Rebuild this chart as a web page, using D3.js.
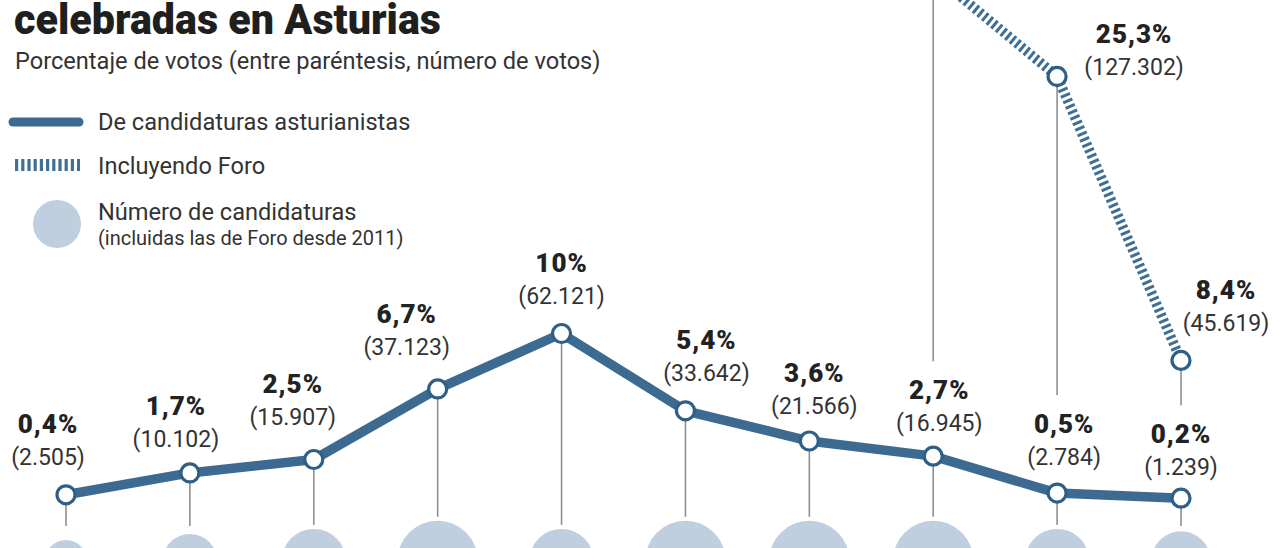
<!DOCTYPE html>
<html>
<head>
<meta charset="utf-8">
<script src="https://cdn.jsdelivr.net/npm/d3@7"></script>
<style>
  html, body { margin: 0; padding: 0; background: #fff; }
  svg { display: block; }
  text { font-family: Roboto, "Noto Sans", sans-serif; }
</style>
</head>
<body>
<svg id="chart" width="1280" height="548"></svg>
<script>
// ---------------- data ----------------
const years = ["1983", "1987", "1991", "1995", "1999", "2003", "2007", "2011", "2012", "2015"];
const pctAsturianistas = [0.4, 1.7, 2.5, 6.7, 10, 5.4, 3.6, 2.7, 0.5, 0.2];
const votesAsturianistas = [2505, 10102, 15907, 37123, 62121, 33642, 21566, 16945, 2784, 1239];
const pctConForo = [null, null, null, null, null, null, null, 31.4, 25.3, 8.4];
const votesConForo = [null, null, null, null, null, null, null, null, 127302, 45619];
const numCandidaturas = [3, 5, 7, 11, 7, 11, 11, 11, 7, 6];

const titleText = "celebradas en Asturias";
const subtitleText = "Porcentaje de votos (entre paréntesis, número de votos)";
const legendLabels = ["De candidaturas asturianistas", "Incluyendo Foro", "Número de candidaturas", "(incluidas las de Foro desde 2011)"];

// label placement (layout, not data)
const labelDxA = [-18, -14, -21, -31, 0, 21, 5, 6, 7, 0];
const labelDyA = [-25, -21, -30, -29, -25, -25, -22, -20, -23, -18];
const labelDxF = [0, 0, 0, 0, 0, 0, 0, 0, 77, 45];
const labelDyF = [0, 0, 0, 0, 0, 0, 0, 0, 4, -24];

// ---------------- setup ----------------
const svg = d3.select("#chart");
const locale = d3.formatLocale({ decimal: ",", thousands: ".", grouping: [3], currency: ["", "€"] });
const fmtPct = v => locale.format(".1~f")(v) + "%";
const fmtVotes = v => "(" + locale.format(",")(v) + ")";

const COL_LINE = "#3d6a90";
const COL_DASH = "#3f6f93";
const COL_BUBBLE = "#bfcfe0";
const COL_DROP = "#8f8f8f";

const x = d3.scalePoint().domain(years).range([66, 1181]);
const y = d3.scaleLinear().domain([0, 10]).range([501.5, 333.5]);
const r = d3.scaleSqrt().domain([0, 11]).range([0, 40.2]);
const bubbleY = 561;

const dataA = years.map((yr, i) => ({ yr, i, v: pctAsturianistas[i], votes: votesAsturianistas[i] }));
const dataF = years.map((yr, i) => ({ yr, i, v: pctConForo[i], votes: votesConForo[i] })).filter(d => d.v != null);

// ---------------- title / subtitle ----------------
svg.append("text").attr("x", 14).attr("y", 34)
  .attr("font-size", 42).attr("font-weight", 900).attr("fill", "#1f1f1f")
  .attr("textLength", 427).attr("lengthAdjust", "spacingAndGlyphs")
  .text(titleText);
svg.append("text").attr("x", 15).attr("y", 69)
  .attr("font-size", 23.6).attr("fill", "#333")
  .text(subtitleText);

// ---------------- legend ----------------
const lg = svg.append("g");
lg.append("line").attr("x1", 13).attr("x2", 79).attr("y1", 122).attr("y2", 122)
  .attr("stroke", COL_LINE).attr("stroke-width", 9).attr("stroke-linecap", "round");
lg.append("line").attr("x1", 15).attr("x2", 80).attr("y1", 165).attr("y2", 165)
  .attr("stroke", COL_DASH).attr("stroke-width", 12).attr("stroke-dasharray", "3.2,3");
lg.append("circle").attr("cx", 57).attr("cy", 224).attr("r", 24).attr("fill", COL_BUBBLE);
lg.append("text").attr("x", 98).attr("y", 130).attr("font-size", 23.6).attr("fill", "#333").text(legendLabels[0]);
lg.append("text").attr("x", 98).attr("y", 174).attr("font-size", 23.6).attr("fill", "#333").text(legendLabels[1]);
lg.append("text").attr("x", 98).attr("y", 220).attr("font-size", 23.6).attr("fill", "#333").text(legendLabels[2]);
lg.append("text").attr("x", 98).attr("y", 245).attr("font-size", 20).attr("fill", "#333").text(legendLabels[3]);

// ---------------- drop lines ----------------
const drops = svg.append("g");
dataA.forEach(d => {
  const cx = x(d.yr);
  const bubbleTop = bubbleY - r(numCandidaturas[d.i]);
  const bottom = Math.min(526, bubbleTop - 4);
  drops.append("line").attr("x1", cx).attr("x2", cx)
    .attr("y1", y(d.v)).attr("y2", bottom)
    .attr("stroke", COL_DROP).attr("stroke-width", 1.6);
});
dataF.forEach(d => {
  const cx = x(d.yr);
  const a = dataA[d.i];
  const labelTop = y(a.v) + labelDyA[a.i] - 55;
  drops.append("line").attr("x1", cx).attr("x2", cx)
    .attr("y1", y(d.v)).attr("y2", labelTop - 20)
    .attr("stroke", COL_DROP).attr("stroke-width", 1.6);
});

// ---------------- bubbles ----------------
svg.append("g").selectAll("circle").data(dataA).join("circle")
  .attr("cx", d => x(d.yr)).attr("cy", bubbleY)
  .attr("r", d => r(numCandidaturas[d.i]))
  .attr("fill", COL_BUBBLE);

// ---------------- lines ----------------
const line = d3.line().x(d => x(d.yr)).y(d => y(d.v));
svg.append("path").datum(dataF).attr("d", line)
  .attr("fill", "none").attr("stroke", COL_DASH).attr("stroke-width", 10)
  .attr("stroke-dasharray", "3,3");
svg.append("path").datum(dataA).attr("d", line)
  .attr("fill", "none").attr("stroke", COL_LINE).attr("stroke-width", 9.5)
  .attr("stroke-linejoin", "round");

// ---------------- markers ----------------
const markers = svg.append("g");
markers.selectAll("circle.a").data(dataA).join("circle").attr("class", "a")
  .attr("cx", d => x(d.yr)).attr("cy", d => y(d.v)).attr("r", 9)
  .attr("fill", "#fff").attr("stroke", "#2f5f86").attr("stroke-width", 3.2);
markers.selectAll("circle.f").data(dataF).join("circle").attr("class", "f")
  .attr("cx", d => x(d.yr)).attr("cy", d => y(d.v)).attr("r", 9)
  .attr("fill", "#fff").attr("stroke", "#2f5f86").attr("stroke-width", 3.2);

// ---------------- labels ----------------
function addLabel(d, dx, dy) {
  const cx = x(d.yr) + dx;
  const parenBase = y(d.v) + dy - 5;
  const g = svg.append("g");
  g.append("text").attr("x", cx).attr("y", parenBase - 32)
    .attr("text-anchor", "middle").attr("font-size", 26).attr("font-weight", 900)
    .attr("fill", "#222").attr("letter-spacing", 1)
    .text(fmtPct(d.v));
  g.append("text").attr("x", cx).attr("y", parenBase)
    .attr("text-anchor", "middle").attr("font-size", 23).attr("fill", "#333")
    .text(fmtVotes(d.votes));
}
dataA.forEach(d => addLabel(d, labelDxA[d.i], labelDyA[d.i]));
dataF.filter(d => d.votes != null).forEach(d => addLabel(d, labelDxF[d.i], labelDyF[d.i]));
</script>
</body>
</html>
